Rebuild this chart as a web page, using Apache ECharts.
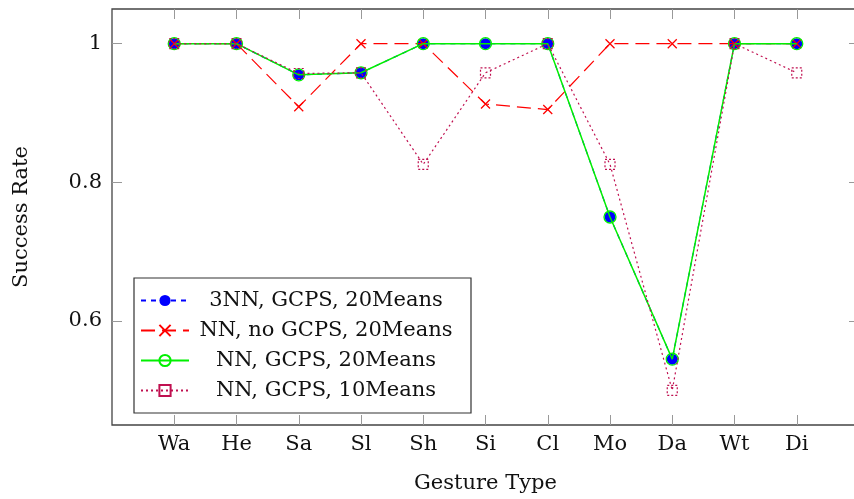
<!DOCTYPE html>
<html><head><meta charset="utf-8">
<script src="https://cdn.jsdelivr.net/npm/echarts@6/dist/echarts.min.js"></script>
<style>html,body{margin:0;padding:0;background:#fff}#c{width:854px;height:499px}</style>
</head><body><div id="c"></div>
<script>
const categories = ['Wa','He','Sa','Sl','Sh','Si','Cl','Mo','Da','Wt','Di'];
const s3nnGcps20 = [1,1,0.955,0.958,1,1,1,0.75,0.545,1,1];
const nnNoGcps20 = [1,1,0.909,1,1,0.913,0.905,1,1,1,1];
const nnGcps20 = [1,1,0.955,0.958,1,1,1,0.75,0.545,1,1];
const nnGcps10 = [1,1,0.957,0.958,0.826,0.958,1,0.826,0.5,1,0.958];
const yTicks = [0.6,0.8,1];
const seriesNames = ['3NN, GCPS, 20Means','NN, no GCPS, 20Means','NN, GCPS, 20Means','NN, GCPS, 10Means'];

const FONT = 'DejaVu Serif';
const FS = 21;
const xIdx = categories.map((c,i)=>i);
const toPts = arr => arr.map((v,i)=>[i,v]);

const chart = echarts.init(document.getElementById('c'));
const tickStyle = {show:true, inside:true, length:10, lineStyle:{color:'#999', width:1}};
const xBase = {type:'value', min:-1, max:11, splitLine:{show:false}, axisLine:{show:false, onZero:false}};
const yBase = {type:'value', min:0.45, max:1.05, splitLine:{show:false}, axisLine:{show:false, onZero:false}};
chart.setOption({
  animation:false,
  backgroundColor:'#fff',
  grid:{left:112, right:-5, top:9, bottom:74, outerBoundsMode:'none', containLabel:false,
    show:true, borderColor:'#444', borderWidth:1.3, backgroundColor:'transparent'},
  xAxis:[
    Object.assign({}, xBase, {position:'bottom', name:'Gesture Type', nameLocation:'middle', nameGap:48,
      nameTextStyle:{fontFamily:FONT, fontSize:FS, color:'#111'},
      axisTick:Object.assign({customValues:xIdx}, tickStyle),
      axisLabel:{customValues:xIdx, formatter:v=>categories[v]||'', fontFamily:FONT, fontSize:FS, color:'#111', margin:9}}),
    Object.assign({}, xBase, {position:'top', axisTick:Object.assign({customValues:xIdx}, tickStyle), axisLabel:{show:false}})
  ],
  yAxis:[
    Object.assign({}, yBase, {position:'left', name:'Success Rate', nameLocation:'middle', nameGap:80, nameRotate:90,
      nameTextStyle:{fontFamily:FONT, fontSize:FS, color:'#111'},
      axisTick:Object.assign({customValues:yTicks}, tickStyle),
      axisLabel:{customValues:yTicks, formatter:v=>String(v), fontFamily:FONT, fontSize:FS, color:'#111', margin:10}}),
    Object.assign({}, yBase, {position:'right', axisTick:Object.assign({customValues:yTicks}, tickStyle), axisLabel:{show:false}})
  ],
  legend:{
    orient:'vertical', left:134, top:278,
    backgroundColor:'#fff', borderColor:'#333', borderWidth:1.2, borderRadius:0,
    padding:[12,13,12,6], itemGap:9, itemWidth:48, itemHeight:14,
    data:seriesNames,
    formatter:n=>'{c|'+n+'}',
    textStyle:{fontFamily:FONT, fontSize:FS, color:'#111', rich:{c:{width:264, lineHeight:20, align:'center', fontFamily:FONT, fontSize:FS, color:'#111'}}}
  },
  series:[
    {name:seriesNames[0], type:'line', data:toPts(s3nnGcps20), z:2,
      lineStyle:{color:'#0000ff', width:1.2, type:[5,5]},
      symbol:'circle', symbolSize:11, itemStyle:{color:'#0000ff'}},
    {name:seriesNames[1], type:'line', data:toPts(nnNoGcps20), z:3,
      lineStyle:{color:'#ff0000', width:1.2, type:[14,7]},
      symbol:'path://M0,0L10,10M10,0L0,10', symbolSize:9, itemStyle:{color:'#ff0000', borderColor:'#ff0000', borderWidth:1.3}},
    {name:seriesNames[2], type:'line', data:toPts(nnGcps20), z:4,
      lineStyle:{color:'#00f000', width:1.5, type:'solid'},
      symbol:'circle', symbolSize:12, itemStyle:{color:'transparent', borderColor:'#00f000', borderWidth:1.3}},
    {name:seriesNames[3], type:'line', data:toPts(nnGcps10), z:5,
      lineStyle:{color:'#c01050', width:1.2, type:[2,3]},
      symbol:'rect', symbolSize:10, itemStyle:{color:'transparent', borderColor:'#c01050', borderWidth:1.2, borderType:[2,2]}}
  ]
});
</script></body></html>
